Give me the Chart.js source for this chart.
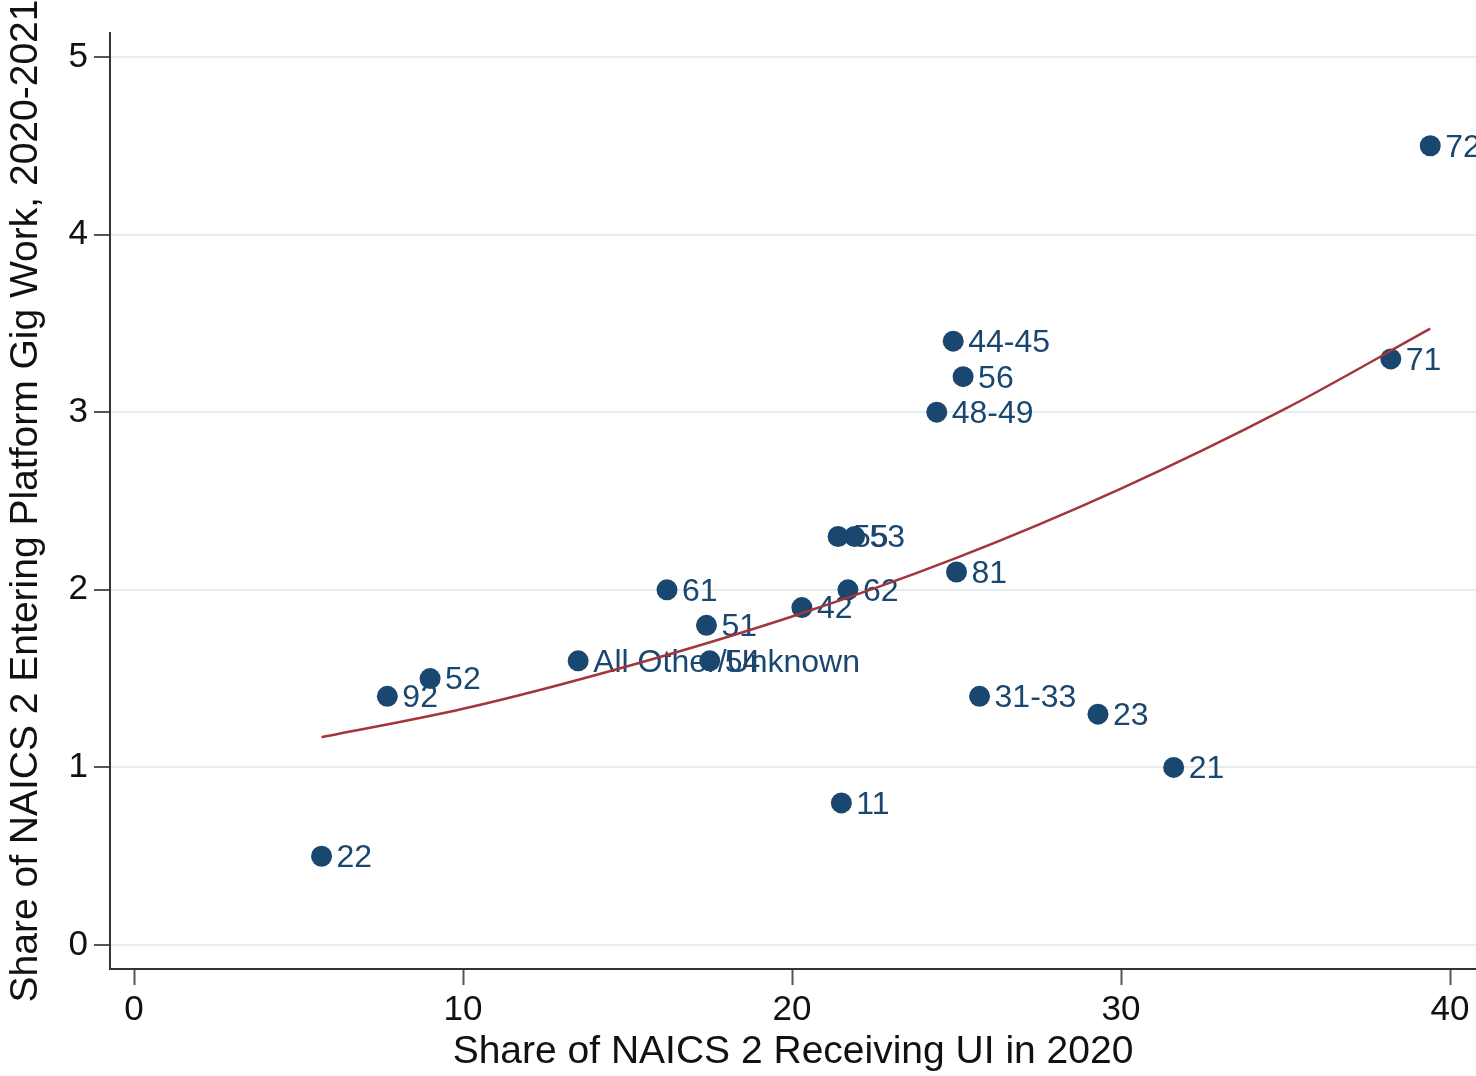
<!DOCTYPE html>
<html>
<head>
<meta charset="utf-8">
<script src="https://cdn.jsdelivr.net/npm/chart.js@4.4.1/dist/chart.umd.min.js"></script>
<style>
  html, body { margin: 0; padding: 0; background: #ffffff; }
  #wrap { width: 1476px; height: 1076px; overflow: hidden; }
</style>
</head>
<body>
<div id="wrap"><canvas id="c" width="1476" height="1076"></canvas></div>
<script>
// ---- Data ----
const industryLabels = ["72","71","44-45","56","48-49","55","53","81","61","62","42","51","All Other/Unknown","54","52","92","31-33","23","21","11","22"];
const uiShare  = [39.4, 38.2, 24.9, 25.2, 24.4, 21.4, 21.9, 25.0, 16.2, 21.7, 20.3, 17.4, 13.5, 17.5, 9.0, 7.7, 25.7, 29.3, 31.6, 21.5, 5.7];
const gigShare = [4.5, 3.3, 3.4, 3.2, 3.0, 2.3, 2.3, 2.1, 2.0, 2.0, 1.9, 1.8, 1.6, 1.6, 1.5, 1.4, 1.4, 1.3, 1.0, 0.8, 0.5];

// fitted curve, read at several points along the drawn line
const fitX = [5.7, 10, 15, 20, 25, 30, 35, 39.4];
const fitY = [1.17, 1.33, 1.57, 1.85, 2.18, 2.57, 3.02, 3.47];

const xTicks = [0, 10, 20, 30, 40];
const yTicks = [0, 1, 2, 3, 4, 5];

const xTitle = "Share of NAICS 2 Receiving UI in 2020";
const yTitle = "Share of NAICS 2 Entering Platform Gig Work, 2020-2021";

// ---- Styles ----
const FONT = '"Liberation Sans", Arial, Helvetica, sans-serif';
const NAVY = '#1a476f';
const MAROON = '#a3353d';

const scatterPts = uiShare.map((v, i) => ({ x: v, y: gigShare[i] }));
const fitPts = fitX.map((v, i) => ({ x: v, y: fitY[i] }));

const labelPlugin = {
  id: 'markerLabels',
  afterDatasetDraw(chart, args) {
    if (args.index !== 1) return;
    const ctx = chart.ctx;
    const meta = args.meta;
    ctx.save();
    ctx.font = '32px ' + FONT;
    ctx.fillStyle = NAVY;
    ctx.textAlign = 'left';
    ctx.textBaseline = 'middle';
    meta.data.forEach((el, i) => {
      ctx.fillText(industryLabels[i], el.x + 15, el.y + 2);
    });
    ctx.restore();
  }
};

new Chart(document.getElementById('c'), {
  type: 'scatter',
  data: {
    datasets: [
      {
        type: 'line',
        data: fitPts,
        borderColor: MAROON,
        borderWidth: 2.5,
        pointRadius: 0,
        fill: false,
        cubicInterpolationMode: 'monotone',
        showLine: true
      },
      {
        data: scatterPts,
        backgroundColor: NAVY,
        borderColor: NAVY,
        borderWidth: 0,
        pointRadius: 10.5,
        pointHoverRadius: 10.5
      }
    ]
  },
  options: {
    responsive: false,
    animation: false,
    events: [],
    layout: { autoPadding: false, padding: { top: 33, right: 0, left: 0, bottom: 0 } },
    plugins: {
      legend: { display: false },
      tooltip: { enabled: false }
    },
    scales: {
      x: {
        type: 'linear',
        min: -0.73,
        max: 40.79,
        afterBuildTicks(scale) { scale.ticks = xTicks.map(v => ({ value: v })); },
        afterFit(scale) { scale.height = 107; },
        ticks: {
          font: { family: FONT, size: 35 },
          color: '#111',
          padding: 4,
          maxRotation: 0,
          autoSkip: false,
          callback: v => String(v)
        },
        grid: {
          drawOnChartArea: false,
          drawTicks: true,
          tickLength: 16,
          tickWidth: 2,
          tickColor: '#555'
        },
        border: { display: true, color: '#333', width: 2 },
        title: {
          display: true,
          text: xTitle,
          font: { family: FONT, size: 39 },
          color: '#111',
          padding: 0
        }
      },
      y: {
        type: 'linear',
        min: -0.135,
        max: 5.135,
        afterBuildTicks(scale) { scale.ticks = yTicks.map(v => ({ value: v })); },
        afterFit(scale) { scale.width = 110; },
        ticks: {
          font: { family: FONT, size: 35 },
          color: '#111',
          padding: 6,
          callback: v => String(v)
        },
        grid: {
          drawOnChartArea: true,
          color: '#e6edee',
          lineWidth: 2,
          drawTicks: true,
          tickLength: 16,
          tickWidth: 2,
          tickColor: '#555'
        },
        border: { display: true, color: '#333', width: 2 },
        title: {
          display: true,
          text: yTitle,
          font: { family: FONT, size: 39 },
          color: '#111',
          padding: 3
        }
      }
    }
  },
  plugins: [labelPlugin]
});
</script>
</body>
</html>
